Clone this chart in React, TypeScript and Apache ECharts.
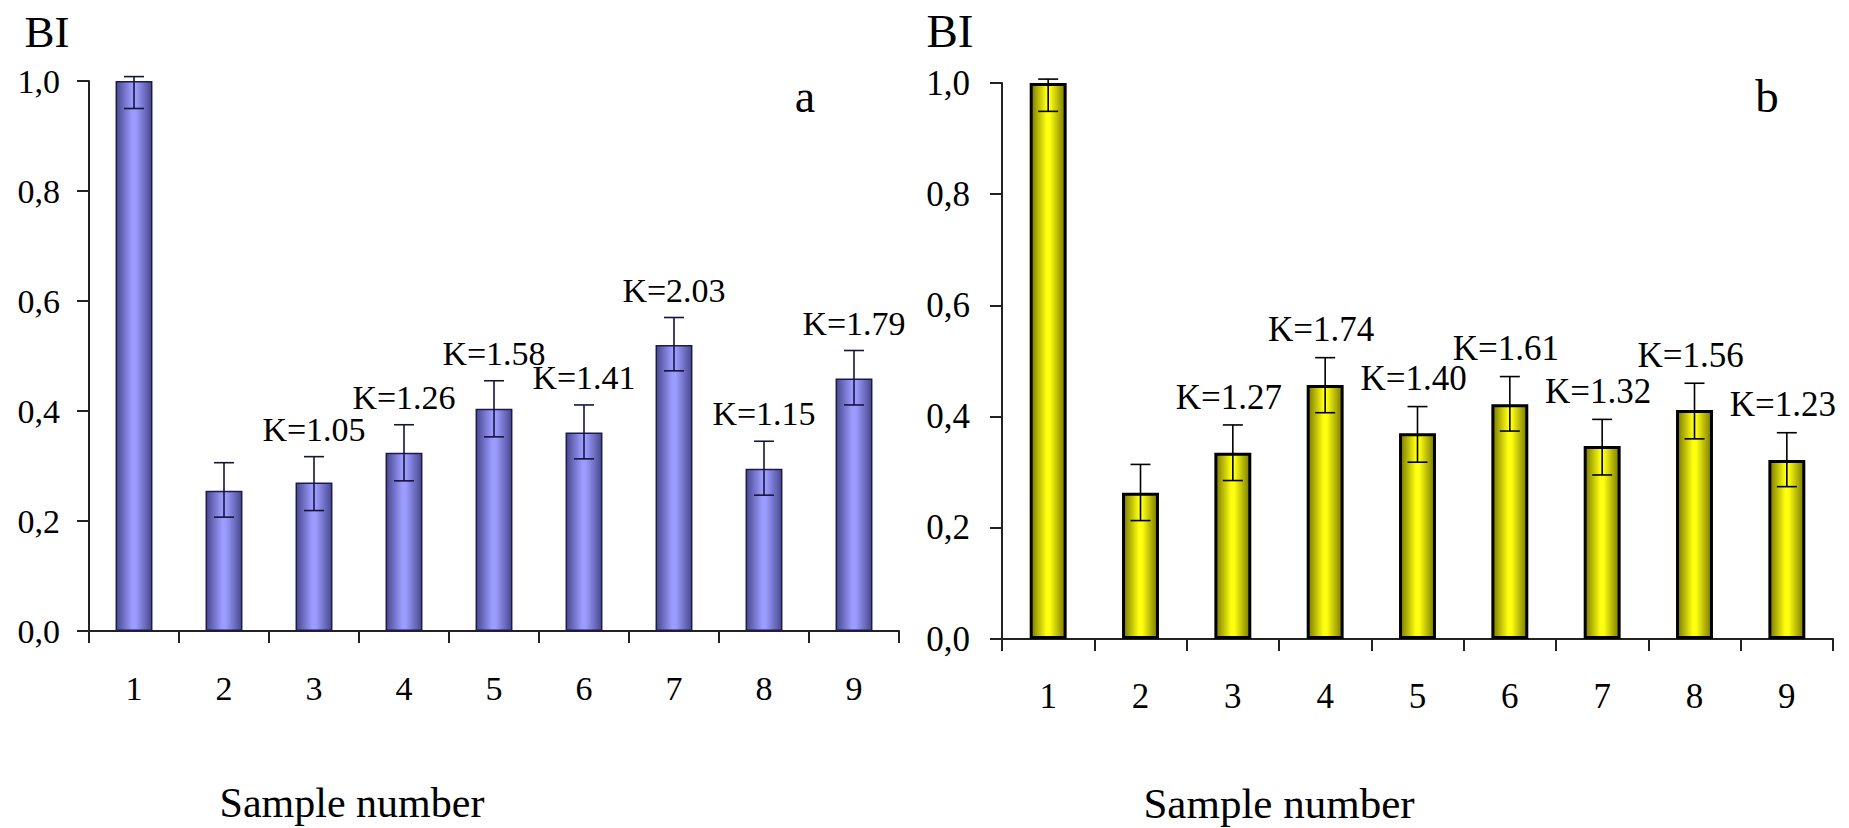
import React, { useEffect, useRef } from "react";
import * as echarts from "echarts";

const categories = ["1", "2", "3", "4", "5", "6", "7", "8", "9"];
const yTicks = [0, 0.2, 0.4, 0.6, 0.8, 1.0];

const aValues = [1.0, 0.255, 0.27, 0.324, 0.404, 0.361, 0.52, 0.295, 0.459];
const aErrMinus = [0.05, 0.048, 0.051, 0.051, 0.051, 0.048, 0.047, 0.048, 0.048];
const aErrPlus = [0.008, 0.051, 0.047, 0.051, 0.051, 0.05, 0.05, 0.05, 0.051];
const aLabels = ["", "", "K=1.05", "K=1.26", "K=1.58", "K=1.41", "K=2.03", "K=1.15", "K=1.79"];

const bValues = [1.0, 0.263, 0.335, 0.457, 0.37, 0.422, 0.347, 0.412, 0.322];
const bErrMinus = [0.051, 0.05, 0.05, 0.05, 0.052, 0.048, 0.052, 0.052, 0.048];
const bErrPlus = [0.007, 0.051, 0.05, 0.049, 0.048, 0.05, 0.048, 0.048, 0.049];
const bLabels = ["", "", "K=1.27", "K=1.74", "K=1.40", "K=1.61", "K=1.32", "K=1.56", "K=1.23"];

const FONT = "'Liberation Serif', serif";

function fmt(v: number) {
  return v.toFixed(1).replace(".", ",");
}

function errSeries(
  gridIdx: number,
  values: number[],
  em: number[],
  ep: number[],
  labels: string[],
  color: string,
  fontSize: number,
  labelDx: number
) {
  return {
    type: "custom",
    xAxisIndex: gridIdx,
    yAxisIndex: gridIdx,
    clip: false,
    z: 10,
    data: values.map((v, i) => [i, v, em[i], ep[i]]),
    renderItem: (params: any, api: any) => {
      const i = api.value(0);
      const v = api.value(1);
      const lo = v - api.value(2);
      const hi = v + api.value(3);
      const pTop = api.coord([i, hi]);
      const pBot = api.coord([i, lo]);
      const half = 10;
      const lineStyle = { stroke: color, lineWidth: 1.6 };
      const children: any[] = [
        { type: "line", shape: { x1: pTop[0], y1: pTop[1], x2: pBot[0], y2: pBot[1] }, style: lineStyle },
        { type: "line", shape: { x1: pTop[0] - half, y1: pTop[1], x2: pTop[0] + half, y2: pTop[1] }, style: lineStyle },
        { type: "line", shape: { x1: pBot[0] - half, y1: pBot[1], x2: pBot[0] + half, y2: pBot[1] }, style: lineStyle },
      ];
      const lab = labels[params.dataIndex];
      if (lab) {
        children.push({
          type: "text",
          x: pTop[0] + labelDx,
          y: pTop[1] - 16 - fontSize * 0.3375,
          style: {
            text: lab,
            fill: "#000",
            fontSize,
            fontFamily: FONT,
            align: "center",
            verticalAlign: "middle",
            textAlign: "center",
            textVerticalAlign: "middle",
          },
        });
      }
      return { type: "group", children };
    },
  };
}

function axisPair(gridIdx: number, fontSize: number, yMargin: number) {
  const lineStyle = { color: "#222", width: 2 };
  return {
    x: {
      gridIndex: gridIdx,
      type: "category",
      data: categories,
      boundaryGap: true,
      axisLine: { show: true, lineStyle },
      axisTick: { show: true, interval: 0, length: 12, lineStyle },
      axisLabel: {
        interval: 0,
        margin: 57,
        verticalAlign: "middle",
        fontSize,
        fontFamily: FONT,
        color: "#000",
      },
      splitLine: { show: false },
    },
    y: {
      gridIndex: gridIdx,
      type: "value",
      min: yTicks[0],
      max: yTicks[yTicks.length - 1],
      interval: 0.2,
      axisLine: { show: true, lineStyle },
      axisTick: { show: true, length: 12, lineStyle },
      axisLabel: {
        margin: yMargin,
        formatter: (v: number) => fmt(v),
        fontSize,
        fontFamily: FONT,
        color: "#000",
        verticalAlign: "middle",
      },
      splitLine: { show: false },
    },
  };
}

export default function App() {
  const ref = useRef<HTMLDivElement>(null);
  useEffect(() => {
    if (!ref.current) return;
    const chart = echarts.init(ref.current, undefined, { renderer: "svg" });
    const a = axisPair(0, 34, 29);
    const b = axisPair(1, 35, 32);
    const blueGrad = new echarts.graphic.LinearGradient(0, 0, 1, 0, [
      { offset: 0, color: "#48488f" },
      { offset: 0.45, color: "#9c9cff" },
      { offset: 0.55, color: "#9c9cff" },
      { offset: 1, color: "#48488f" },
    ]);
    const yellowGrad = new echarts.graphic.LinearGradient(0, 0, 1, 0, [
      { offset: 0, color: "#7a7a00" },
      { offset: 0.45, color: "#ffff10" },
      { offset: 0.55, color: "#ffff10" },
      { offset: 1, color: "#7a7a00" },
    ]);
    const textStyle = (text: string, x: number, y: number, fontSize: number) => ({
      type: "text",
      x,
      y,
      silent: true,
      style: {
        text,
        fill: "#000",
        fontSize,
        fontFamily: FONT,
        align: "center",
        verticalAlign: "middle",
        textAlign: "center",
        textVerticalAlign: "middle",
      },
    });
    chart.setOption({
      animation: false,
      backgroundColor: "#fff",
      grid: [
        { left: 89, top: 81, width: 810, height: 550 },
        { left: 1002, top: 83, width: 831, height: 556 },
      ],
      xAxis: [a.x, b.x],
      yAxis: [a.y, b.y],
      series: [
        {
          type: "bar",
          xAxisIndex: 0,
          yAxisIndex: 0,
          data: aValues,
          barWidth: "41%",
          itemStyle: { color: blueGrad, borderColor: "#1c1c4a", borderWidth: 1.5 },
        },
        {
          type: "bar",
          xAxisIndex: 1,
          yAxisIndex: 1,
          data: bValues,
          barWidth: "40%",
          itemStyle: { color: yellowGrad, borderColor: "#000", borderWidth: 3 },
        },
        errSeries(0, aValues, aErrMinus, aErrPlus, aLabels, "#15153a", 34, 0),
        errSeries(1, bValues, bErrMinus, bErrPlus, bLabels, "#000", 35, -4),
      ],
      graphic: [
        textStyle("BI", 47, 32, 45),
        textStyle("BI", 950, 31, 47),
        textStyle("a", 805, 96, 46),
        textStyle("b", 1767, 96, 47),
        textStyle("Sample number", 352, 803, 42),
        textStyle("Sample number", 1279, 803, 43),
      ],
    });
    return () => chart.dispose();
  }, []);
  return (
    <div
      ref={ref}
      style={{ position: "fixed", left: 0, top: 0, width: 1849, height: 828, background: "#fff" }}
    />
  );
}
